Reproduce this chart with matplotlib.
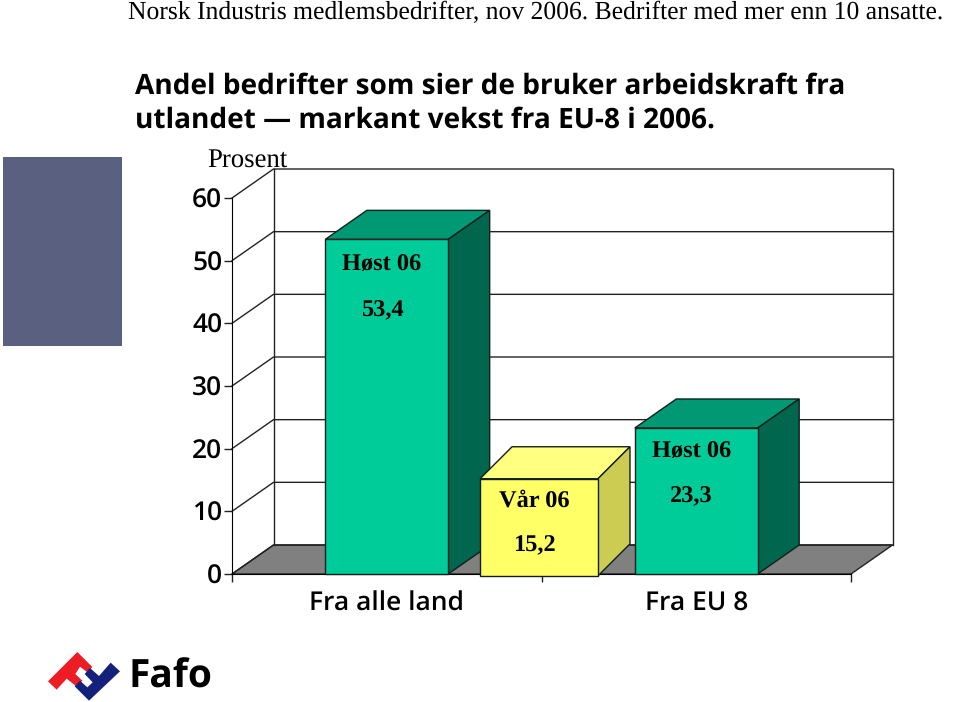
import matplotlib
matplotlib.use('Agg')
import matplotlib.pyplot as plt
from matplotlib.patches import Polygon, Rectangle

# data
groups = ['Fra alle land', 'Fra EU 8']
y_ticks = [0, 10, 20, 30, 40, 50, 60]
bar_labels = ['Høst 06', 'Vår 06', 'Høst 06']
bar_text = ['53,4', '15,2', '23,3']
bar_values = [53.4, 15.2, 23.3]
bar_centers = [0.5, 0.992, 1.5]

W, H = 960, 702
SANS = 'Open Sans'
SERIF = 'Liberation Serif'

# without hinting the text widths follow the font size smoothly
plt.rcParams['text.hinting'] = 'none'

fig = plt.figure(figsize=(W / 100, H / 100), dpi=100)

# background layer in pixels, for the things that are not chart marks
bg = fig.add_axes([0, 0, 1, 1])
bg.set_xlim(0, W)
bg.set_ylim(H, 0)
bg.axis('off')
bg.add_patch(Rectangle((3, 157), 119, 189, fc='#5a6180', ec='none'))


def logo(pts):
    return [(44 + x / 3, 648 + y / 3) for x, y in pts]


red = [(12, 100), (100, 12), (145, 57), (130, 73), (108, 56), (94, 78), (115, 98), (98, 116), (68, 92), (38, 125)]
blue = [(92, 115), (108, 98), (130, 118), (146, 103), (122, 78), (138, 60), (165, 84), (200, 44), (228, 70), (135, 158)]
bg.add_patch(Polygon(logo(red), fc='#ee1c25', ec='none'))
bg.add_patch(Polygon(logo(blue), fc='#14217c', ec='none'))
bg.text(128, 677, 'Fafo', fontsize=28, fontweight='bold', family=SANS, va='center', ha='left')

bg.text(128, 13, 'Norsk Industris medlemsbedrifter, nov 2006. Bedrifter med mer enn 10 ansatte.',
        fontsize=18.45, family=SERIF, va='center', ha='left')
bg.text(135, 86, 'Andel bedrifter som sier de bruker arbeidskraft fra',
        fontsize=20.2, fontweight='bold', family=SANS, va='center', ha='left')
bg.text(135, 120, 'utlandet — markant vekst fra EU-8 i 2006.',
        fontsize=20.2, fontweight='bold', family=SANS, va='center', ha='left')
bg.text(207, 160, 'Prosent', fontsize=19.3, family=SERIF, va='center', ha='left')

# chart axes: front edge of the floor and the left wall
ax = fig.add_axes([232 / W, 1 - 574 / H, 619 / W, 376 / H])
ax.set_xlim(0, 2)
ax.set_ylim(0, 60)
ax.patch.set_visible(False)
for s in ['top', 'right']:
    ax.spines[s].set_visible(False)

# depth of the 3d box in data units
dx = 41.5 / 309.5
dy = 29 / 6.267
lw = 1.0

ax.add_patch(Polygon([(0, 0), (dx, dy), (2 + dx, dy), (2, 0)], fc='#808080', ec='#222222', lw=lw, clip_on=False, zorder=1))
for v in y_ticks:
    ax.plot([0, dx, 2 + dx], [v, v + dy, v + dy], color='#222222', lw=lw, clip_on=False, zorder=2)
ax.plot([dx, dx], [dy, 60 + dy], color='#222222', lw=lw, clip_on=False, zorder=2)
ax.plot([2 + dx, 2 + dx], [dy, 60 + dy], color='#222222', lw=lw, clip_on=False, zorder=2)


def box(center, value, width, depth_x, depth_y, base, front, top, side, z):
    l, r = center - width / 2, center + width / 2
    kw = dict(ec='#10201c', lw=lw, clip_on=False, zorder=z)
    ax.add_patch(Polygon([(l, value), (l + depth_x, value + depth_y), (r + depth_x, value + depth_y), (r, value)], fc=top, **kw))
    ax.add_patch(Polygon([(r, base), (r, value), (r + depth_x, value + depth_y), (r + depth_x, base + depth_y)], fc=side, **kw))
    ax.add_patch(Polygon([(l, base), (l, value), (r, value), (r, base)], fc=front, **kw))


box(bar_centers[0], bar_values[0], 0.397, dx, dy, 0, '#00cc99', '#009973', '#00664d', 3)
box(bar_centers[2], bar_values[2], 0.397, dx, dy, 0, '#00cc99', '#009973', '#00664d', 3)
box(bar_centers[1], bar_values[1], 0.381, 32 / 309.5, 32 / 6.267, -0.3, '#ffff66', '#ffff80', '#cccc52', 4)

label_offsets = [(3.95, 11.3), (3.6, 10.6), (3.75, 10.95)]
for c, v, a, b, off in zip(bar_centers, bar_values, bar_labels, bar_text, label_offsets):
    ax.text(c - 0.015, v - off[0], a, fontsize=17.6, fontweight='bold', family=SERIF, ha='center', va='center', zorder=5, clip_on=False)
    ax.text(c - 0.015, v - off[1], b, fontsize=17.6, fontweight='bold', family=SERIF, ha='center', va='center', zorder=5, clip_on=False)

ax.set_yticks(y_ticks)
ax.set_xticks([0, 1, 2])
ax.set_xticklabels([])
ax.set_xticks([0.5, 1.5], minor=True)
ax.set_xticklabels(groups, minor=True, fontsize=19, fontweight='semibold', family=SANS)
ax.tick_params(axis='x', which='minor', length=0, pad=12.5)
ax.tick_params(axis='x', which='major', length=6, width=1, color='#222222')
ax.tick_params(axis='y', length=6, width=1, color='#222222', pad=1)
for t in ax.get_yticklabels():
    t.set_fontsize(19)
    t.set_fontweight('semibold')
    t.set_family(SANS)

fig.savefig('out.png', dpi=100)
